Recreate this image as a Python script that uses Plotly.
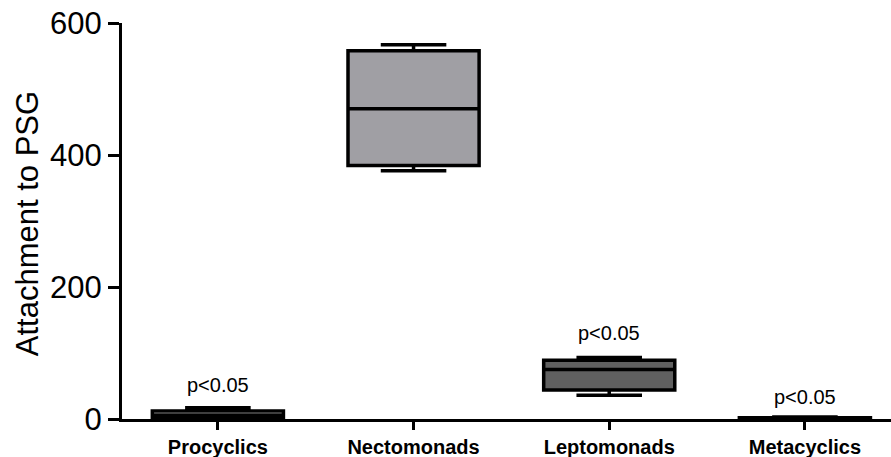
import plotly.graph_objects as go

categories = ["Procyclics", "Nectomonads", "Leptomonads", "Metacyclics"]
mins = [1, 376, 36, 0.5]
q1s = [2, 384, 44, 1]
medians = [6, 470, 75, 1.5]
q3s = [12, 558, 89, 2]
maxs = [17, 567, 93, 3]
fills = ["#ffffff", "#a09fa4", "#606060", "#000000"]
sig_labels = ["p<0.05", "", "p<0.05", "p<0.05"]
sig_y = [52, None, 131, 34]

y_ticks = [0, 200, 400, 600]
y_title = "Attachment to PSG"

fig = go.Figure()
for i, c in enumerate(categories):
    fig.add_trace(go.Box(
        x=[i], q1=[q1s[i]], median=[medians[i]], q3=[q3s[i]],
        lowerfence=[mins[i]], upperfence=[maxs[i]],
        fillcolor=fills[i], line=dict(color="black", width=3.5),
        width=0.67, whiskerwidth=0.5, boxpoints=False, showlegend=False,
        hoverinfo="skip",
    ))

for i, lab in enumerate(sig_labels):
    if lab:
        fig.add_annotation(x=i, y=sig_y[i], text=lab, showarrow=False,
                           font=dict(family="Liberation Sans, Arial", size=20, color="black"))

fig.add_annotation(xref="paper", yref="paper", x=-0.1235, y=0.492, text=y_title,
                   textangle=-90, showarrow=False, xanchor="center", yanchor="middle",
                   font=dict(family="Liberation Sans, Arial", size=31, color="black"))

fig.update_layout(
    width=891, height=457,
    margin=dict(l=122, r=0, t=23, b=38),
    paper_bgcolor="white", plot_bgcolor="white",
    boxmode="overlay",
    font=dict(family="Liberation Sans, Arial", color="black"),
    xaxis=dict(
        range=[-0.49, 3.44], tickmode="array",
        tickvals=list(range(len(categories))), ticktext=categories,
        tickfont=dict(size=20, weight="bold"),
        showline=True, linecolor="black", linewidth=3,
        ticks="outside", ticklen=8, tickwidth=3, tickcolor="black",
        showgrid=False, zeroline=False, fixedrange=True, automargin=False,
    ),
    yaxis=dict(
        range=[0, 600], tickmode="array", tickvals=y_ticks,
        tickfont=dict(size=31), ticklabeloverflow="allow",
        showline=True, linecolor="black", linewidth=3,
        ticks="outside", ticklen=11, tickwidth=3, tickcolor="black",
        showgrid=False, zeroline=False, automargin=False,
    ),
)

fig.write_html("out.html", config={"displayModeBar": False},
               post_script="document.body.style.margin='0';document.body.style.overflow='hidden';")
